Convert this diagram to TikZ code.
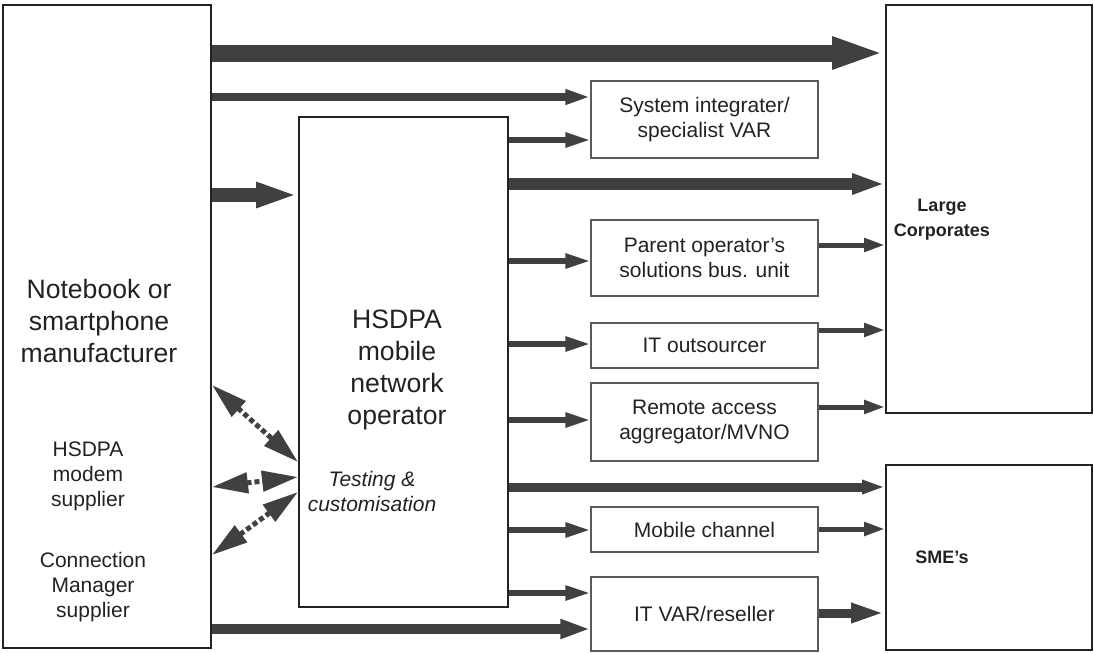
\documentclass[tikz,border=0pt]{standalone}
\usepackage{fontspec}
\setmainfont{Liberation Sans}
\usetikzlibrary{arrows.meta,positioning}
\definecolor{arrgray}{RGB}{64,64,64}
\definecolor{boxline}{RGB}{34,34,34}
\definecolor{subline}{RGB}{90,90,90}
\definecolor{txt}{RGB}{34,34,34}

\begin{document}
\begin{tikzpicture}[
    x=0.5pt, y=-0.5pt,
    every node/.style={font=\fontsize{10.5}{12.5}\selectfont, text=txt, inner sep=0pt},
    bigbox/.style={rectangle, draw=boxline, line width=1pt},
    subbox/.style={
      rectangle, draw=subline, line width=0.6pt,
      minimum width=113.5pt, align=center
    },
    bigtext/.style={font=\fontsize{13.3}{16}\selectfont, align=center},
    boldtext/.style={font=\fontsize{9}{12.5}\selectfont\bfseries, align=center},
    slanttext/.style={font=\fontsize{10.5}{12.5}\selectfont\itshape, align=center},
    flow/.style n args={3}{draw=arrgray, line width=#1, -{Triangle[length=#2, width=#3]}},
    branch/.style={flow={2.75pt}{12.5pt}{7pt}},
    outlet/.style={flow={2.5pt}{10.5pt}{6.5pt}},
    dotarr/.style={
      draw=arrgray, line width=2.5pt, dash pattern=on 2.5pt off 1.5pt,
      {Triangle[length=18pt, width=10pt]}-{Triangle[length=18pt, width=10pt]}
    }
  ]
  \useasboundingbox (0,0) rectangle (1094,653);

  % Main blocks
  \node[bigbox, minimum width=104pt, minimum height=321.5pt] (maker) at (107,326.5) {};
  \node[bigbox, minimum width=104.5pt, minimum height=245pt] (mno) at (403.5,362) {};
  \node[bigbox, minimum width=103pt, minimum height=204pt] (corp) at (989,209) {};
  \node[bigbox, minimum width=103pt, minimum height=92.5pt] (sme) at (989,557.5) {};

  % Labels of the main blocks
  \node[bigtext] (makerlabel) at (99,321) {Notebook or\\smartphone\\manufacturer};
  \node[align=center] (modemlabel) at (88,476) {HSDPA\\modem\\supplier};
  \node[align=center] (cmlabel) at (93,587) {Connection\\Manager\\supplier};
  \node[bigtext] (mnolabel) at (397,370) {HSDPA\\mobile\\network\\operator};
  \node[slanttext] (testlabel) at (372,491) {Testing \&\\customisation};
  \node[boldtext] (corplabel) at (942,220) {Large\\Corporates};
  \node[boldtext] (smelabel) at (942,557) {SME’s};

  % Channels
  \node[subbox, minimum height=38.5pt] (sysint) at (704.5,119.5) {System integrater/\\specialist VAR};
  \node[subbox, minimum height=38pt] (parent) at (704.5,258) {Parent operator’s\\solutions bus. unit};
  \node[subbox, minimum height=22.5pt] (itout) at (704.5,345.5) {IT outsourcer};
  \node[subbox, minimum height=39pt] (remote) at (704.5,422) {Remote access\\aggregator/MVNO};
  \node[subbox, minimum height=22.5pt] (mobile) at (704.5,529.5) {Mobile channel};
  \node[subbox, minimum height=37pt] (itvar) at (704.5,614) {IT VAR/reseller};

  % Arrows from the manufacturer
  \draw[flow={8.5pt}{26.5pt}{14.5pt}] (maker.east |- 0,53) -- (corp.west |- 0,53);
  \draw[flow={4pt}{12.5pt}{7pt}] (maker.east |- 0,97) -- (sysint.west |- 0,97);
  \draw[flow={7pt}{21pt}{11.5pt}] (maker.east |- 0,195) -- (mno.west |- 0,195);
  \draw[flow={5.25pt}{15pt}{9pt}] (maker.east |- 0,629) -- (itvar.west |- 0,629);

  % Arrows from the operator
  \draw[branch] (mno.east |- 0,140) -- (sysint.west |- 0,140);
  \draw[flow={6pt}{16.5pt}{9.5pt}] (mno.east |- 0,184) -- (corp.west |- 0,184);
  \draw[branch] (mno.east |- 0,261) -- (parent.west |- 0,261);
  \draw[branch] (mno.east |- 0,344) -- (itout.west |- 0,344);
  \draw[branch] (mno.east |- 0,420) -- (remote.west |- 0,420);
  \draw[flow={4.5pt}{11.5pt}{6.5pt}] (mno.east |- 0,487) -- (sme.west |- 0,487);
  \draw[branch] (mno.east |- 0,530) -- (mobile.west |- 0,530);
  \draw[branch] (mno.east |- 0,593) -- (itvar.west |- 0,593);

  % Channels to customers
  \draw[outlet] (parent.east |- 0,245) -- (corp.west |- 0,245);
  \draw[outlet] (itout.east |- 0,330) -- (corp.west |- 0,330);
  \draw[outlet] (remote.east |- 0,407) -- (corp.west |- 0,407);
  \draw[outlet] (mobile.east |- 0,529) -- (sme.west |- 0,529);
  \draw[flow={4.5pt}{17pt}{9pt}] (itvar.east |- 0,613) -- (sme.west |- 0,613);

  % Testing & customisation links
  \draw[dotarr] (maker.east |- 0,385) -- (mno.west |- 0,462);
  \draw[dotarr] (maker.east |- 0,487) -- (mno.west |- 0,477);
  \draw[dotarr] (maker.east |- 0,555) -- (mno.west |- 0,492);

\end{tikzpicture}
\end{document}
